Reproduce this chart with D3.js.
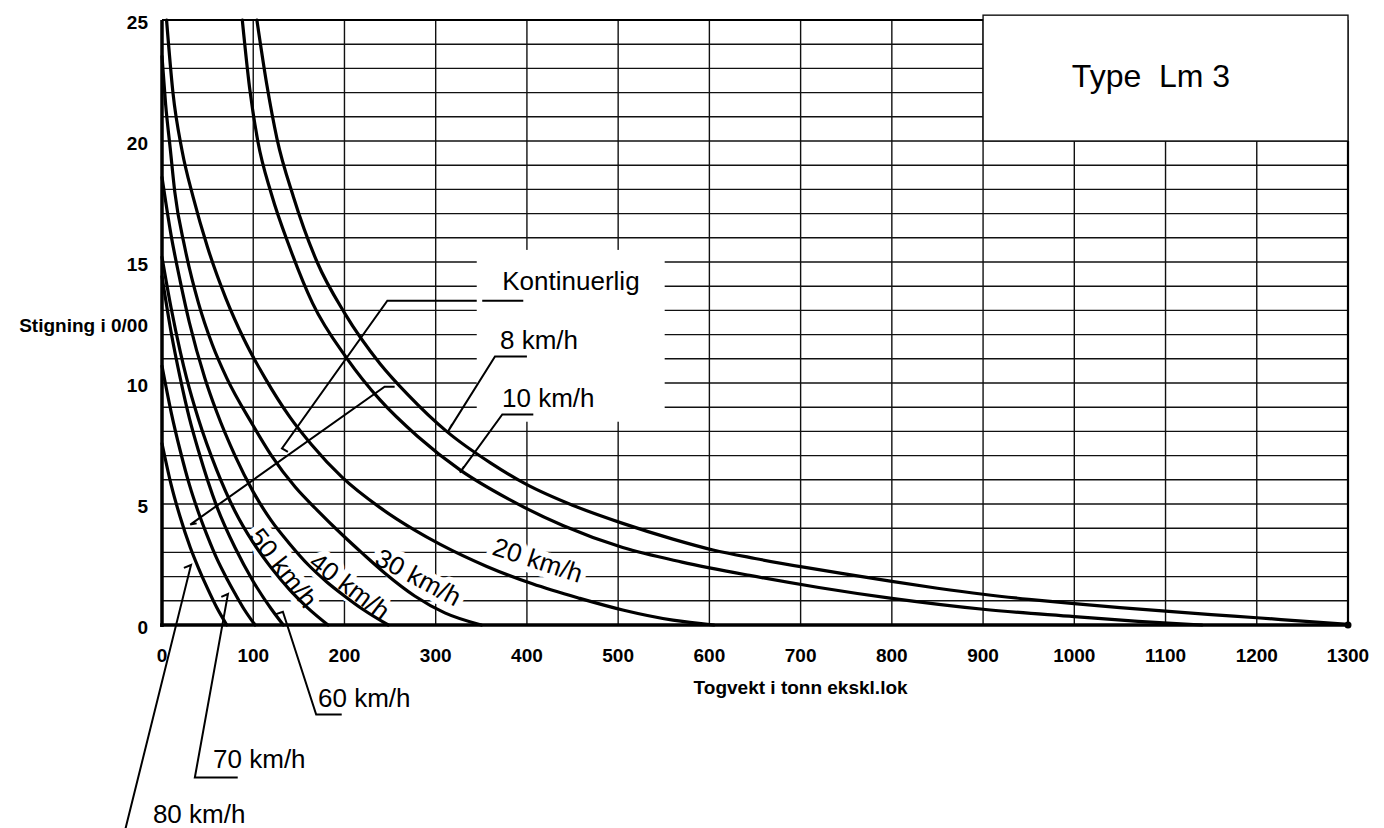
<!DOCTYPE html>
<html><head><meta charset="utf-8">
<script src="https://cdn.jsdelivr.net/npm/d3@7"></script>
<style>
body{margin:0;background:#fff}
svg{display:block}
text{font-family:"Liberation Sans",Arial,Helvetica,sans-serif;fill:#000}
</style>
</head><body>
<svg id="chart" width="1384" height="828"></svg>
<script>
// ---------- data (weight in tonnes, grade in per mille) ----------
const xTicks = [0,100,200,300,400,500,600,700,800,900,1000,1100,1200,1300];
const yTicks = [0,5,10,15,20,25];
const xTitle = "Togvekt i tonn ekskl.lok";
const yTitle = "Stigning i 0/00";
const boxTitle = "Type  Lm 3";

const curve8  = [[104,25],[115,22.3],[126,20.1],[144,17.7],[170,15.0],[200,12.9],[239,10.8],[270,9.5],[312,8.0],[360,6.7],[400,5.8],[450,4.95],[505,4.2],[560,3.55],[604,3.1],[650,2.75],[705,2.38],[750,2.1],[800,1.8],[850,1.52],[900,1.27],[950,1.06],[1000,0.88],[1050,0.72],[1100,0.57],[1150,0.43],[1200,0.3],[1250,0.16],[1300,0.03]];
const curve10 = [[88,25],[96,22.2],[105,20.0],[120,17.8],[140,15.6],[165,13.3],[203,11.0],[239,9.3],[280,7.8],[327,6.4],[380,5.2],[440,4.1],[505,3.2],[570,2.6],[644,2.05],[720,1.55],[800,1.1],[900,0.65],[1000,0.35],[1070,0.15],[1140,0]];
const curve20 = [[5,25],[12,22],[22,19.6],[34,17.7],[50,15.6],[70,13.5],[90,11.8],[113,10.2],[140,8.6],[164,7.45],[197,6.12],[239,4.85],[277,3.92],[305,3.33],[356,2.42],[406,1.7],[458,1.1],[505,0.62],[560,0.2],[605,0]];
const curve30 = [[0,23.5],[4,21.5],[9,19.7],[14,17.9],[25,15.6],[40,13.3],[55,11.6],[71,10.2],[99,8.3],[120,7.0],[146,5.7],[170,4.75],[197,3.75],[220,2.95],[244,2.15],[277,1.2],[310,0.5],[350,0]];
const curve40 = [[0,18.5],[10,16.1],[20,14.2],[30,12.5],[47,10.2],[60,8.8],[80,7.0],[100,5.5],[120,4.3],[140,3.35],[160,2.5],[180,1.8],[200,1.2],[220,0.65],[248,0]];
const curve50 = [[0,15.2],[10,13.1],[20,11.3],[27,10.2],[40,8.5],[60,6.4],[80,4.7],[100,3.4],[120,2.35],[140,1.45],[160,0.7],[182,0]];
const curve60 = [[0,14.4],[10,12.1],[20,10.2],[30,8.55],[40,7.2],[60,4.9],[80,3.2],[100,1.8],[120,0.65],[133,0]];
const curve70 = [[0,10.7],[10,8.8],[20,7.2],[30,5.8],[40,4.65],[50,3.65],[60,2.75],[72,1.85],[80,1.3],[90,0.65],[102,0]];
const curve80 = [[0,7.5],[10,5.8],[20,4.45],[31,3.2],[40,2.35],[50,1.5],[60,0.72],[71,0]];

// rotated curve labels: text, weight, grade, angle
const rotLabels  = ["20 km/h","30 km/h","40 km/h","50 km/h"];
const rotLabelW  = [412, 281, 206, 133];
const rotLabelG  = [2.69, 1.98, 1.61, 2.36];
const rotLabelA  = [18, 28, 37, 52];

// straight labels: text, weight, grade (baseline-left)
const flatLabels = ["Kontinuerlig","8 km/h","10 km/h","60 km/h","70 km/h","80 km/h"];
const flatLabelW = [373, 370.5, 372.7, 171, 56, -10];
const flatLabelG = [13.84, 11.4, 9.0, -3.39, -5.91, -8.18];

// leader lines (weight, grade)
const leadKontA = [[345,13.4],[247,13.4],[131.5,7.3],[138,7.15]];
const leadKontB = [[351,13.4],[396,13.4]];
const leadKontC = [[255,9.85],[244,9.85],[31,4.15],[38,4.2]];
const lead8  = [[400,11.1],[365,11.1],[313.5,8.0],[318,8.3]];
const lead10 = [[407,8.7],[373,8.7],[326.6,6.3],[331,6.55]];
const lead60 = [[197,-3.7],[169,-3.7],[132.5,0.55],[125,0.45]];
const lead70 = [[83,-6.3],[36,-6.3],[72.3,1.28],[65,1.16]];
const lead80 = [[-40.6,-8.5],[31.8,2.48],[24,2.36]];

// ---------- drawing ----------
const svg = d3.select("#chart");
svg.append("rect").attr("width",1384).attr("height",828).attr("fill","#fff");

const x = d3.scaleLinear().domain([0,1300]).range([162,1348]);
const y = d3.scaleLinear().domain([0,25]).range([625,20]);

// grid
const grid = svg.append("g").attr("stroke","#111").attr("stroke-width",1.4);
grid.selectAll("line.v").data(d3.range(0,1301,100)).join("line")
  .attr("x1",d=>x(d)).attr("x2",d=>x(d)).attr("y1",y(0)).attr("y2",y(25));
grid.selectAll("line.h").data(d3.range(1,26,1)).join("line")
  .attr("x1",x(0)).attr("x2",x(1300)).attr("y1",d=>y(d)).attr("y2",d=>y(d));

// white label area behind Kontinuerlig / 8 / 10 km/h
svg.append("rect").attr("x",x(345)).attr("y",y(15.5))
  .attr("width",x(551)-x(345)).attr("height",y(8.4)-y(15.5)).attr("fill","#fff");

// Type box
svg.append("rect").attr("x",x(900)).attr("y",y(25.2))
  .attr("width",x(1300)-x(900)).attr("height",y(20)-y(25.2))
  .attr("fill","#fff").attr("stroke","#111").attr("stroke-width",1.4);
svg.append("text").attr("x",1151).attr("y",87)
  .attr("text-anchor","middle").attr("font-size",32)
  .style("white-space","pre").text(boxTitle);

// halos for rotated labels
const rot = rotLabels.map((t,i)=>({t,w:rotLabelW[i],g:rotLabelG[i],a:rotLabelA[i]}));
svg.append("g").selectAll("text").data(rot).join("text")
  .attr("transform",d=>`translate(${x(d.w)},${y(d.g)}) rotate(${d.a})`)
  .attr("text-anchor","middle").attr("dy","0.35em").attr("font-size",26)
  .attr("fill","#fff").attr("stroke","#fff").attr("stroke-width",12)
  .attr("stroke-linejoin","round").text(d=>d.t);

// axes
svg.append("line").attr("x1",x(0)).attr("x2",x(0)).attr("y1",y(0)+2).attr("y2",y(25))
  .attr("stroke","#000").attr("stroke-width",3.5);
svg.append("line").attr("x1",x(0)-2).attr("x2",x(1300)+1).attr("y1",y(0)).attr("y2",y(0))
  .attr("stroke","#000").attr("stroke-width",3.5);
svg.append("line").attr("x1",x(1300)).attr("x2",x(1300)).attr("y1",y(0)).attr("y2",y(20))
  .attr("stroke","#000").attr("stroke-width",2.2);
svg.append("line").attr("x1",x(0)).attr("x2",x(900)).attr("y1",y(25)).attr("y2",y(25))
  .attr("stroke","#000").attr("stroke-width",2);

// curves
const curves = [curve8,curve10,curve20,curve30,curve40,curve50,curve60,curve70,curve80];
const lineGen = d3.line().x(d=>x(d[0])).y(d=>y(d[1])).curve(d3.curveMonotoneX);
svg.append("g").selectAll("path").data(curves).join("path")
  .attr("d",lineGen).attr("fill","none").attr("stroke","#000")
  .attr("stroke-width",3.2).attr("stroke-linecap","round");
svg.append("circle").attr("cx",x(1300)).attr("cy",y(0)).attr("r",3.5).attr("fill","#000");

// leaders
const leaders = [leadKontA,leadKontB,leadKontC,lead8,lead10,lead60,lead70,lead80];
const linLine = d3.line().x(d=>x(d[0])).y(d=>y(d[1]));
svg.append("g").selectAll("path").data(leaders).join("path")
  .attr("d",linLine).attr("fill","none").attr("stroke","#000").attr("stroke-width",2);

// labels
svg.append("g").selectAll("text").data(rot).join("text")
  .attr("transform",d=>`translate(${x(d.w)},${y(d.g)}) rotate(${d.a})`)
  .attr("text-anchor","middle").attr("dy","0.35em").attr("font-size",26).text(d=>d.t);
const flat = flatLabels.map((t,i)=>({t,w:flatLabelW[i],g:flatLabelG[i]}));
svg.append("g").selectAll("text").data(flat).join("text")
  .attr("x",d=>x(d.w)).attr("y",d=>y(d.g)).attr("font-size",26).text(d=>d.t);

// tick labels
svg.append("g").selectAll("text").data(xTicks).join("text")
  .attr("x",d=>x(d)).attr("y",662).attr("text-anchor","middle")
  .attr("font-size",19).attr("font-weight","bold").text(d=>d);
svg.append("g").selectAll("text").data(yTicks).join("text")
  .attr("x",148).attr("y",d=>y(d)+9).attr("text-anchor","end")
  .attr("font-size",19).attr("font-weight","bold").text(d=>d);

// axis titles
svg.append("text").attr("x",x(700)).attr("y",694).attr("text-anchor","middle")
  .attr("font-size",19).attr("font-weight","bold").text(xTitle);
svg.append("text").attr("x",148).attr("y",332).attr("text-anchor","end")
  .attr("font-size",19).attr("font-weight","bold").text(yTitle);
</script>
</body></html>
